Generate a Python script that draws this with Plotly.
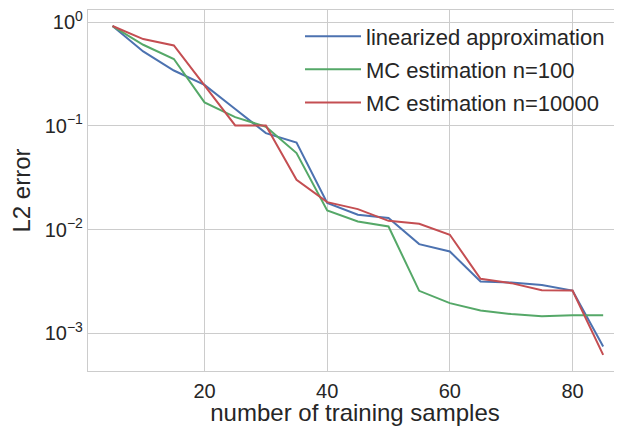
import plotly.graph_objects as go

x = [5, 10, 15, 20, 25, 30, 35, 40, 45, 50, 55, 60, 65, 70, 75, 80, 85]
linearized = [0.915, 0.521, 0.341, 0.248, 0.145, 0.085, 0.069, 0.0180, 0.0139, 0.0129,
              0.00723, 0.00614, 0.00315, 0.00308, 0.00292, 0.00258, 0.000745]
mc_100 = [0.915, 0.604, 0.44, 0.168, 0.121, 0.098, 0.0545, 0.01525, 0.01194, 0.01069,
          0.002564, 0.00195, 0.001656, 0.00153, 0.00146, 0.00149, 0.00149]
mc_10000 = [0.915, 0.685, 0.594, 0.243, 0.1007, 0.1007, 0.0301, 0.01837, 0.01573, 0.01213,
            0.01135, 0.0089, 0.00335, 0.00304, 0.0026, 0.00258, 0.000618]

names = ["linearized approximation", "MC estimation n=100", "MC estimation n=10000"]
colors = ["#4C72B0", "#55A868", "#C44E52"]
ytick_vals = [1, 0.1, 0.01, 0.001]
ytick_text = ["10<sup>0</sup>", "10<sup>−1</sup>", "10<sup>−2</sup>", "10<sup>−3</sup>"]
xtick_vals = [20, 40, 60, 80]

FONT = "Liberation Sans, Arial, sans-serif"
TXT = "#262626"
GRID = "#cccccc"

fig = go.Figure()
for i, (ys, nm, c) in enumerate(zip([linearized, mc_100, mc_10000], names, colors)):
    fig.add_trace(go.Scatter(x=x, y=ys, mode="lines", name=nm, legendgroup=f"g{i}",
                             line=dict(color=c, width=2)))

# page body has an 8px default margin, so the figure is drawn 8px in from the window edge
fig.update_layout(
    width=614, height=418,
    margin=dict(l=80, r=0, t=2, b=55, autoexpand=False),
    paper_bgcolor="white", plot_bgcolor="white",
    font=dict(family=FONT, color=TXT, size=20),
    showlegend=True,
    legend=dict(x=0.397, y=0.985, xanchor="left", yanchor="top",
                bgcolor="rgba(0,0,0,0)", font=dict(size=22, color=TXT),
                traceorder="grouped", tracegroupgap=1.5, itemwidth=56),
)
fig.update_xaxes(
    range=[1, 88.07], tickvals=xtick_vals, ticks="", showgrid=True, automargin=False,
    gridcolor=GRID, gridwidth=1.2, showline=True, linecolor=GRID, linewidth=1.2,
    mirror=True, zeroline=False, tickfont=dict(size=20, color=TXT), ticklabelstandoff=2,
    title=dict(text="number of training samples", font=dict(size=24, color=TXT), standoff=6),
)
fig.update_yaxes(
    type="log", range=[-3.364, 0.116], tickvals=ytick_vals, ticktext=ytick_text,
    ticks="", showgrid=True, gridcolor=GRID, gridwidth=1.2, showline=True, automargin=False,
    linecolor=GRID, linewidth=1.2, mirror=True, zeroline=False,
    tickfont=dict(size=20, color=TXT), ticklabeloverflow="allow",
    title=dict(text="L2 error", font=dict(size=24, color=TXT), standoff=14),
)

fig.write_html("out.html")
